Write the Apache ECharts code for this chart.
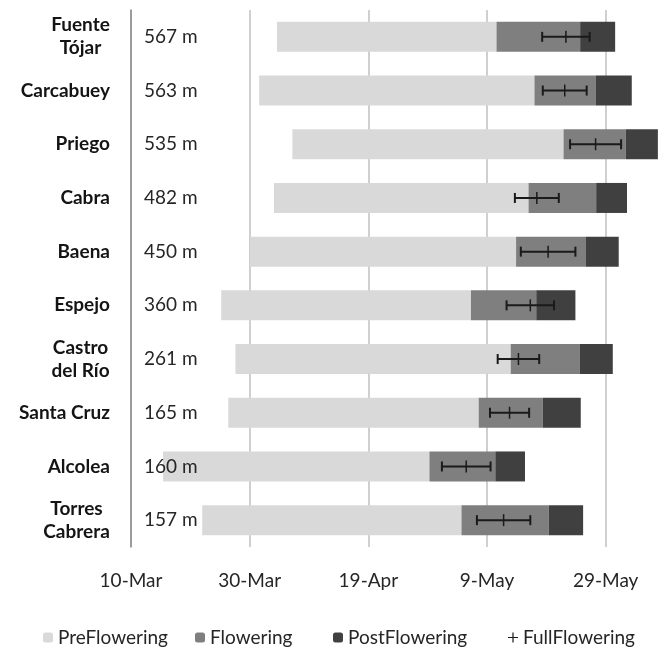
<!DOCTYPE html>
<html>
<head>
<meta charset="utf-8">
<style>
  html, body { margin: 0; padding: 0; background: #ffffff; }
  #chart { width: 666px; height: 647px; }
</style>
<script src="https://cdn.jsdelivr.net/npm/echarts@6/dist/echarts.min.js"></script>
</head>
<body>
<div id="chart"></div>
<script>
// Sites, top to bottom
const cities = ['Fuente\nTójar', 'Carcabuey', 'Priego', 'Cabra', 'Baena', 'Espejo', 'Castro\ndel Río', 'Santa Cruz', 'Alcolea', 'Torres\nCabrera'];
const elevations = ['567 m', '563 m', '535 m', '482 m', '450 m', '360 m', '261 m', '165 m', '160 m', '157 m'];

// All dates are days counted from 10-Mar
const preFloweringStart = [24.6, 21.6, 27.2, 24.1, 20.1, 15.2, 17.6, 16.4, 5.4, 12.0];
const floweringStart    = [61.6, 68.0, 72.9, 67.0, 64.9, 57.3, 64.0, 58.6, 50.3, 55.7];
const postFloweringStart= [75.7, 78.3, 83.4, 78.4, 76.6, 68.3, 75.6, 69.4, 61.4, 70.4];
const postFloweringEnd  = [81.6, 84.4, 88.8, 83.6, 82.2, 74.9, 81.2, 75.8, 66.4, 76.2];
const fullFlowering     = [73.3, 73.1, 78.3, 68.4, 70.3, 67.3, 65.3, 63.8, 56.5, 62.8];
const fullFloweringErr  = [4.0, 3.7, 4.3, 3.7, 4.6, 4.0, 3.5, 3.3, 4.1, 4.5];

// x-axis tick labels (every 20 days from 10-Mar)
const tickLabels = ['10-Mar', '30-Mar', '19-Apr', '9-May', '29-May'];

const FONT = 'Lato';
const TXT = '#262626';
const chart = echarts.init(document.getElementById('chart'));

// stacked pieces
const baseData = preFloweringStart.slice();
const preData = preFloweringStart.map((s, i) => +(floweringStart[i] - s).toFixed(2));
const flowData = floweringStart.map((s, i) => +(postFloweringStart[i] - s).toFixed(2));
const postData = postFloweringStart.map((s, i) => +(postFloweringEnd[i] - s).toFixed(2));
const ffData = fullFlowering.map((v, i) => [v, i, fullFloweringErr[i]]);

// rich styles so that two-line names are centred on each other
const ctx = document.createElement('canvas').getContext('2d');
ctx.font = 'bold 19px ' + FONT;
const rich = {};
cities.forEach((c, i) => {
  const lines = c.split('\n');
  if (lines.length > 1) {
    const w = Math.max(...lines.map(l => ctx.measureText(l).width));
    rich['c' + i] = { width: Math.ceil(w), align: 'center', fontWeight: 'bold', fontSize: 19, fontFamily: FONT, color: '#141414', lineHeight: 23 };
  }
});

const legendText = { fontFamily: FONT, fontSize: 19, color: TXT };
const plusIcon = 'path://M4.4,0h1.2v10h-1.2z M0,4.4h10v1.2h-10z';

chart.setOption({
  animation: false,
  backgroundColor: '#ffffff',
  textStyle: { fontFamily: FONT },
  grid: { left: 131, right: 1, top: 10, bottom: 100, containLabel: false },
  legend: [
    { data: ['PreFlowering'], left: 38, top: 623, itemWidth: 10, itemHeight: 10, textStyle: legendText, selectedMode: false },
    { data: ['Flowering'], left: 190, top: 623, itemWidth: 10, itemHeight: 10, textStyle: legendText, selectedMode: false },
    { data: ['PostFlowering'], left: 328, top: 623, itemWidth: 10, itemHeight: 10, textStyle: legendText, selectedMode: false },
    { data: [{ name: 'FullFlowering', icon: plusIcon }], left: 503, top: 623, itemWidth: 10, itemHeight: 10, textStyle: legendText, selectedMode: false }
  ],
  xAxis: {
    type: 'value',
    min: 0,
    max: 90,
    interval: 20,
    axisLine: { show: false },
    axisTick: { show: false },
    splitLine: { show: true, showMaxLine: false, lineStyle: { color: '#c4c4c4', width: 1.6 } },
    axisLabel: {
      margin: 24,
      showMaxLabel: false,
      fontFamily: FONT, fontSize: 19, color: TXT,
      formatter: v => (v % 20 === 0 && tickLabels[v / 20]) ? tickLabels[v / 20] : ''
    }
  },
  yAxis: [
    {
      type: 'category',
      data: cities,
      inverse: true,
      position: 'left',
      axisLine: { show: true, lineStyle: { color: '#8f8f8f', width: 1.6 } },
      axisTick: { show: false },
      splitLine: { show: false },
      axisLabel: {
        margin: 21,
        align: 'right',
        fontFamily: FONT, fontSize: 19, fontWeight: 'bold', color: '#141414', lineHeight: 23,
        rich: rich,
        formatter: (v, i) => {
          const lines = v.split('\n');
          return lines.length > 1 ? lines.map(l => '{c' + i + '|' + l + '}').join('\n') : v;
        }
      }
    },
    {
      type: 'category',
      data: elevations,
      inverse: true,
      position: 'left',
      z: 10,
      axisLine: { show: false },
      axisTick: { show: false },
      splitLine: { show: false },
      axisLabel: {
        inside: true,
        margin: 13,
        fontFamily: FONT, fontSize: 19, color: TXT
      }
    }
  ],
  series: [
    {
      name: 'base', type: 'bar', stack: 'p', yAxisIndex: 0, barWidth: 30, silent: true,
      itemStyle: { color: 'rgba(0,0,0,0)' }, data: baseData
    },
    {
      name: 'PreFlowering', type: 'bar', stack: 'p', yAxisIndex: 0, barWidth: 30,
      itemStyle: { color: '#d9d9d9' }, data: preData
    },
    {
      name: 'Flowering', type: 'bar', stack: 'p', yAxisIndex: 0, barWidth: 30,
      itemStyle: { color: '#7f7f7f' }, data: flowData
    },
    {
      name: 'PostFlowering', type: 'bar', stack: 'p', yAxisIndex: 0, barWidth: 30,
      itemStyle: { color: '#404040' }, data: postData
    },
    {
      name: 'FullFlowering', type: 'custom', yAxisIndex: 0, z: 5,
      itemStyle: { color: '#1a1a1a' },
      data: ffData,
      encode: { x: [0], y: 1 },
      renderItem: (params, api) => {
        const v = api.value(0), idx = api.value(1), e = api.value(2);
        const c = api.coord([v, idx]);
        const l = api.coord([v - e, idx]);
        const r = api.coord([v + e, idx]);
        const st = { stroke: '#1a1a1a', lineWidth: 2 };
        return {
          type: 'group',
          children: [
            { type: 'line', shape: { x1: l[0], y1: c[1], x2: r[0], y2: c[1] }, style: st },
            { type: 'line', shape: { x1: l[0], y1: c[1] - 5, x2: l[0], y2: c[1] + 5 }, style: st },
            { type: 'line', shape: { x1: r[0], y1: c[1] - 5, x2: r[0], y2: c[1] + 5 }, style: st },
            { type: 'line', shape: { x1: c[0], y1: c[1] - 6, x2: c[0], y2: c[1] + 6 }, style: { stroke: '#1a1a1a', lineWidth: 1.5 } }
          ]
        };
      }
    }
  ]
});
</script>
</body>
</html>
